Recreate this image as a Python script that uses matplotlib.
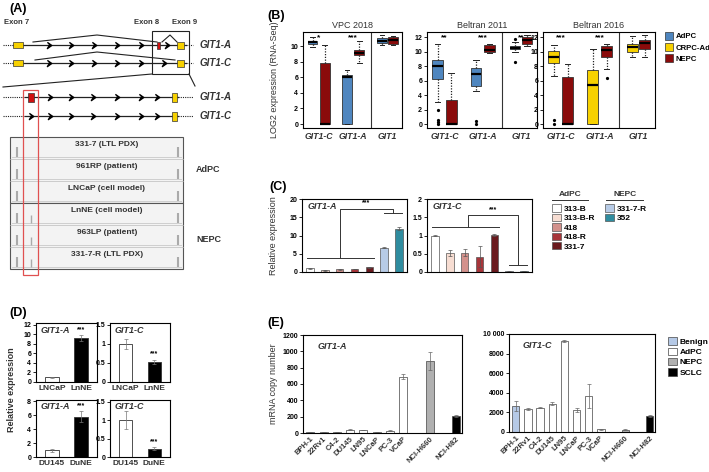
import matplotlib
matplotlib.use("Agg")
import matplotlib.pyplot as plt
from matplotlib.patches import Rectangle, Patch
from matplotlib.lines import Line2D

plt.rcParams['font.family'] = ['Liberation Sans', 'DejaVu Sans']
plt.rcParams['font.weight'] = 'bold'
plt.rcParams['axes.linewidth'] = 0.8

W, H = 709, 472

# ---------------- data ----------------
# (B) box plots: per group -> [AdPC/CRPC, NEPC] for GIT1-C, GIT1-A, GIT1
b_titles = ['VPC 2018', 'Beltran 2011', 'Beltran 2016']
b_groups = ['GIT1-C', 'GIT1-A', 'GIT1']
vpc_med = [10.5, 0.0, 6.0, 9.1, 10.7, 10.8]
vpc_q1 = [10.2, 0.0, 0.0, 8.8, 10.4, 10.3]
vpc_q3 = [10.7, 7.8, 6.3, 9.5, 11.0, 11.2]
vpc_lo = [9.9, 0.0, 0.0, 7.8, 10.1, 10.1]
vpc_hi = [11.1, 10.1, 6.9, 10.6, 11.4, 11.3]
vpc_fl = [[], [], [], [], [], []]
b11_med = [8.0, 0.0, 6.9, 10.2, 10.5, 11.6]
b11_q1 = [6.2, 0.0, 5.3, 10.0, 10.3, 11.0]
b11_q3 = [8.9, 3.3, 7.7, 10.9, 10.7, 12.0]
b11_lo = [3.0, 0.0, 4.6, 9.8, 9.9, 10.8]
b11_hi = [11.1, 7.0, 8.8, 11.1, 11.3, 12.3]
b11_fl = [[2.0, 0.6, 0.3, 0.0], [], [0.4, 0.0], [], [11.7, 8.5], []]
b16_med = [9.2, 0.0, 5.4, 10.2, 10.6, 11.2]
b16_q1 = [8.4, 0.0, 0.0, 9.3, 10.0, 10.4]
b16_q3 = [10.1, 6.5, 7.4, 10.8, 11.0, 11.6]
b16_lo = [6.6, 0.0, 0.0, 7.6, 9.3, 9.3]
b16_hi = [10.9, 8.3, 10.3, 11.1, 12.2, 12.3]
b16_fl = [[0.6, 0.0], [], [], [6.4], [], []]
b_stars = [['*', '***', ''], ['**', '***', '**'], ['***', '***', '']]

# (C) relative expression in PDX models
c_samples = ['313-B', '313-B-R', '418', '418-R', '331-7', '331-7-R', '352']
c_git1a = [1.0, 0.45, 0.7, 0.8, 1.3, 6.7, 11.9]
c_git1a_err = [0.05, 0.05, 0.08, 0.1, 0.1, 0.25, 0.3]
c_git1c = [1.0, 0.52, 0.53, 0.42, 1.01, 0.02, 0.03]
c_git1c_err = [0.02, 0.08, 0.09, 0.28, 0.02, 0.01, 0.01]

# (D) cell line pairs
d_labels = [['LNCaP', 'LnNE'], ['LNCaP', 'LnNE'], ['DU145', 'DuNE'], ['DU145', 'DuNE']]
d_genes = ['GIT1-A', 'GIT1-C', 'GIT1-A', 'GIT1-C']
d_vals = [[1.0, 9.2], [1.0, 0.53], [1.0, 5.8], [1.0, 0.23]]
d_errs = [[0.1, 0.6], [0.12, 0.05], [0.22, 0.8], [0.25, 0.04]]

# (E) mRNA copy numbers
e_lines = ['BPH-1', '22Rv1', 'C4-2', 'DU145', 'LN95', 'LNCaP', 'PC-3', 'VCaP', 'NCI-H660', 'NCI-H82']
e_type = ['Benign', 'AdPC', 'AdPC', 'AdPC', 'AdPC', 'AdPC', 'AdPC', 'AdPC', 'NEPC', 'SCLC']
e_git1a = [15, 12, 8, 40, 35, 15, 30, 690, 880, 210]
e_git1a_err = [2, 2, 1, 3, 3, 2, 3, 30, 110, 15]
e_git1c = [2650, 2300, 2500, 2900, 9300, 2250, 3650, 280, 250, 1650]
e_git1c_err = [550, 100, 100, 150, 80, 250, 1250, 30, 30, 100]

# (A) schematic layout (pixels)
chev_full = [50, 72, 95, 118, 142]
chev_zoom_a = [51, 72, 94, 118, 142, 158]
chev_zoom_c = [32, 51, 72, 94, 118, 142, 158]
tracks_adpc = ['331-7 (LTL PDX)', '961RP (patient)', 'LNCaP (cell model)']
tracks_nepc = ['LnNE (cell model)', '963LP (patient)', '331-7-R (LTL PDX)']

# colours
BLUE = '#4f86bf'
YEL = '#f7d100'
RED = '#8a0b0b'
c_colors = ['#ffffff', '#f7ddd2', '#d3918c', '#a8353a', '#6a1a1e', '#b7cbe6', '#2f8c9f']
e_color_map = {'Benign': '#b5c9e6', 'AdPC': '#ffffff', 'NEPC': '#b0b0b0', 'SCLC': '#000000'}


def px(l, t, r, b):
    return [l / W, 1 - b / H, (r - l) / W, (b - t) / H]


fig = plt.figure(figsize=(W / 100, H / 100), dpi=100)

# ---------------- (A) schematic ----------------
axA = fig.add_axes(px(0, 0, 245, 290))
axA.set_xlim(0, 245)
axA.set_ylim(290, 0)
axA.axis('off')
chev = [(-1, 1), (0.4, 0), (-1, -1), (-0.4, 0)]


def gene_line(y, x0, x1):
    axA.plot([3, x0], [y, y], color='#222', lw=0.8, ls=(0, (1, 1)))
    axA.plot([x0, x1], [y, y], color='#222', lw=0.9)
    axA.plot([x1, 193], [y, y], color='#222', lw=0.8, ls=(0, (1, 1)))


def exon(x0, x1, y, h, col):
    axA.add_patch(Rectangle((x0, y - h / 2), x1 - x0, h, fc=col, ec='#333', lw=0.5, zorder=3))


for y, extra in [(45, 168), (63, 165)]:
    gene_line(y, 13, 186)
    axA.plot(chev_full + [extra], [y] * 6, ls='none', marker=chev, ms=4.5, color='black')
    exon(13, 23, y, 6, YEL)
    exon(177, 184, y, 7, YEL)
exon(157, 160, 45, 7, '#d01010')
axA.plot([33, 97, 157], [42, 35, 42], color='#222', lw=0.8)
axA.plot([162, 170, 177], [42, 35, 42], color='#222', lw=0.8)
axA.plot([35, 97, 175], [60, 52, 60], color='#222', lw=0.8)
axA.add_patch(Rectangle((152, 31), 37, 43, fill=False, ec='#222', lw=0.8))
axA.plot([152, 3], [74, 87], color='#222', lw=0.8)
axA.plot([189, 195], [74, 86], color='#222', lw=0.8)
for lab, x in [('Exon 7', 17), ('Exon 8', 147), ('Exon 9', 185)]:
    axA.text(x, 23, lab, ha='center', va='center', fontsize=5.5, color='#333')
axA.text(200, 45, 'GIT1-A', style='italic', fontsize=7, va='center', color='#333')
axA.text(200, 63, 'GIT1-C', style='italic', fontsize=7, va='center', color='#333')

gene_line(97, 25, 178)
axA.plot(chev_zoom_a, [97] * len(chev_zoom_a), ls='none', marker=chev, ms=4.5, color='black')
exon(28, 34, 97, 9, '#d01010')
exon(172, 177, 97, 9, YEL)
gene_line(116, 25, 178)
axA.plot(chev_zoom_c, [116] * len(chev_zoom_c), ls='none', marker=chev, ms=4.5, color='black')
exon(172, 177, 116, 9, YEL)
axA.text(200, 97, 'GIT1-A', style='italic', fontsize=7, va='center', color='#333')
axA.text(200, 116, 'GIT1-C', style='italic', fontsize=7, va='center', color='#333')

for top, names, nepc in [(137, tracks_adpc, False), (203, tracks_nepc, True)]:
    axA.add_patch(Rectangle((10, top), 173, 66, fc='#f3f3f3', ec='#555', lw=0.8))
    for i, nm in enumerate(names):
        base = top + 22 * (i + 1) - 2
        axA.plot([12, 181], [base, base], color='#c8c8c8', lw=0.6)
        axA.vlines([17, 178], base - 10, base, color='#aaaaaa', lw=1.5)
        if nepc:
            axA.vlines([31], base - 8, base, color='#aaaaaa', lw=1.0)
        axA.text(107, top + 22 * i + 8, nm, ha='center', va='center', fontsize=6, color='#333')
        if i < 2:
            axA.plot([10, 183], [top + 22 * (i + 1), top + 22 * (i + 1)], color='#bbbbbb', lw=0.5)
axA.add_patch(Rectangle((23, 90), 15, 185, fill=False, ec='#e05050', lw=0.9, zorder=5))
axA.text(196, 170, 'AdPC', fontsize=6.5, va='center', color='#333')
axA.text(196, 240, 'NEPC', fontsize=6.5, va='center', color='#333')

# ---------------- (B) box plots ----------------
b_boxes = [(303, 402), (427, 537), (543, 655)]
b_data = [(vpc_med, vpc_q1, vpc_q3, vpc_lo, vpc_hi, vpc_fl),
          (b11_med, b11_q1, b11_q3, b11_lo, b11_hi, b11_fl),
          (b16_med, b16_q1, b16_q3, b16_lo, b16_hi, b16_fl)]
pos = [1, 2, 3.85, 4.85, 6.75, 7.65]
for k, ((l, r), d) in enumerate(zip(b_boxes, b_data)):
    ax = fig.add_axes(px(l, 32, r, 128))
    med, q1, q3, lo, hi, fl = d
    stats = [dict(med=med[i], q1=q1[i], q3=q3[i], whislo=lo[i], whishi=hi[i], fliers=fl[i])
             for i in range(6)]
    first = YEL if k == 2 else BLUE
    cols = [first, RED] * 3
    bx = ax.bxp(stats, positions=pos, widths=0.8, patch_artist=True,
                boxprops=dict(lw=0.6, edgecolor='#333'),
                whiskerprops=dict(ls=(0, (1, 1.2)), lw=0.9, color='#222'),
                capprops=dict(lw=0.7, color='#222'),
                medianprops=dict(color='black', lw=1.6),
                flierprops=dict(marker='o', ms=1.3, mfc='black', mec='black'))
    for p, c in zip(bx['boxes'], cols):
        p.set_facecolor(c)
    ax.axvline(5.8, color='#333', lw=0.8)
    ax.set_xlim(0.2, 8.4)
    if k == 0:
        ax.set_ylim(-0.5, 11.8)
        ax.set_yticks(range(0, 11, 2))
    else:
        ax.set_ylim(-0.55, 12.7)
        ax.set_yticks(range(0, 13, 2))
    ax.set_xticks([1.5, 4.35, 7.2])
    ax.set_xticklabels(b_groups, style='italic', fontsize=6.3, color='#333')
    ax.tick_params(axis='x', length=0, pad=3)
    ax.tick_params(axis='y', labelsize=5, length=2, width=0.6, pad=1.5)
    ax.set_title(b_titles[k], fontsize=6.5, pad=3, color='#333')
    top = ax.get_ylim()[1]
    for j, s in enumerate(b_stars[k]):
        if s:
            ax.text([1.5, 4.35, 7.2][j], top - 0.35, s, ha='center', va='top', fontsize=6)
    if k == 0:
        ax.set_ylabel('LOG2 expression (RNA-Seq)', fontsize=6.5, labelpad=8, color='#333')
fig.legend(handles=[Patch(fc=BLUE, ec='#333', lw=0.5, label='AdPC'),
                    Patch(fc=YEL, ec='#333', lw=0.5, label='CRPC-Ad'),
                    Patch(fc=RED, ec='#333', lw=0.5, label='NEPC')],
           loc='upper left', bbox_to_anchor=(662 / W, 1 - 29 / H), frameon=False,
           fontsize=5.6, handlelength=1.0, handleheight=1.1, handletextpad=0.35, labelspacing=0.35,
           borderaxespad=0)

# ---------------- (C) relative expression ----------------
xs = list(range(7))
for k, (l, r, vals, errs, gene, ymax) in enumerate([(302, 407, c_git1a, c_git1a_err, 'GIT1-A', 20),
                                                    (427, 532, c_git1c, c_git1c_err, 'GIT1-C', 2)]):
    ax = fig.add_axes(px(l, 199, r, 272))
    ax.bar(xs, vals, width=0.5, color=c_colors, edgecolor='#555', lw=0.5,
           yerr=errs, capsize=1.5, error_kw=dict(lw=0.5, ecolor='#555', capthick=0.5))
    ax.set_xlim(-0.55, 6.55)
    ax.set_ylim(0, ymax)
    ax.set_xticks([])
    if k == 0:
        ax.set_yticks([0, 5, 10, 15, 20])
        ax.set_ylabel('Relative expression', fontsize=6.5, labelpad=8, color='#333')
        lw_, hb, top_ = 3.8, 16.2, 17.3
        xm = 2
    else:
        ax.set_yticks([0, 0.5, 1, 1.5, 2])
        ax.set_yticklabels(['0', '0.5', '1', '1.5', '2'])
        lw_, hb, top_ = 1.23, 0.19, 1.56
        xm = 2.2
    ax.tick_params(axis='y', labelsize=5, length=2, width=0.6, pad=1.5)
    ax.plot([-0.2, 4.3], [lw_, lw_], color='#333', lw=0.7)
    ax.plot([xm, xm, 5.6, 5.6], [lw_, top_, top_, hb], color='#333', lw=0.7)
    ax.plot([5.0, 6.2], [hb, hb], color='#333', lw=0.7)
    ax.text((xm + 5.6) / 2, top_ + ymax * 0.03, '***', ha='center', va='bottom', fontsize=5)
    ax.text(0.05, 0.9, gene, transform=ax.transAxes, style='italic', fontsize=6.5, va='center', color='#333')
fig.legend(handles=[Patch(fc=c_colors[i], ec='#555', lw=0.5, label=c_samples[i]) for i in range(5)],
           loc='upper left', bbox_to_anchor=(549 / W, 1 - 201 / H), frameon=False, fontsize=6,
           handlelength=1.0, handleheight=1.0, handletextpad=0.4, labelspacing=0.1, borderaxespad=0)
fig.legend(handles=[Patch(fc=c_colors[i], ec='#555', lw=0.5, label=c_samples[i]) for i in range(5, 7)],
           loc='upper left', bbox_to_anchor=(602 / W, 1 - 201 / H), frameon=False, fontsize=6,
           handlelength=1.0, handleheight=1.0, handletextpad=0.4, labelspacing=0.1, borderaxespad=0)
for txt, xc, x0, x1 in [('AdPC', 570, 552, 588), ('NEPC', 625, 606, 643)]:
    fig.text(xc / W, 1 - 195 / H, txt, ha='center', va='center', fontsize=6, color='#333')
    fig.add_artist(Line2D([x0 / W, x1 / W], [1 - 200 / H, 1 - 200 / H], color='#333', lw=0.7))

# ---------------- (D) cell line pairs ----------------
d_boxes = [(36, 323, 97, 382), (110, 323, 170, 382), (36, 400, 97, 457), (110, 400, 170, 457)]
d_ylims = [(12.4, range(0, 13, 2)), (1.55, [0, 0.5, 1, 1.5]), (8.2, range(0, 9, 2)), (1.55, [0, 0.5, 1, 1.5])]
for k in range(4):
    ax = fig.add_axes(px(*d_boxes[k]))
    ax.bar([0, 1], d_vals[k], width=0.45, color=['white', 'black'], edgecolor='#333', lw=0.6,
           yerr=d_errs[k], capsize=1.5, error_kw=dict(lw=0.5, ecolor='#777', capthick=0.5))
    ax.set_xlim(-0.55, 1.55)
    ax.set_ylim(0, d_ylims[k][0])
    ax.set_yticks(list(d_ylims[k][1]))
    if k in (1, 3):
        ax.set_yticklabels(['0', '0.5', '1', '1.5'])
    ax.set_xticks([0, 1])
    ax.set_xticklabels(d_labels[k], fontsize=6, color='#333')
    ax.tick_params(axis='x', length=0, pad=2)
    ax.tick_params(axis='y', labelsize=5, length=2, width=0.6, pad=1.5)
    ax.text(0.08, 0.88, d_genes[k], transform=ax.transAxes, style='italic', fontsize=6.5, va='center', color='#333')
    ax.text(1, d_vals[k][1] + d_errs[k][1] + d_ylims[k][0] * 0.04, '***', ha='center', va='bottom', fontsize=5)
fig.text(12 / W, 1 - 390 / H, 'Relative expression', rotation=90, ha='center', va='center', fontsize=6.5, color='#333')

# ---------------- (E) mRNA copy number ----------------
e_pos = [0, 1, 2, 3, 4, 5, 6, 7, 9, 11]
e_cols = [e_color_map[t] for t in e_type]
for k, (box, vals, errs, gene, ymax, ticks) in enumerate([
        ((303, 335, 462, 433), e_git1a, e_git1a_err, 'GIT1-A', 1200, range(0, 1201, 200)),
        ((509, 334, 655, 432), e_git1c, e_git1c_err, 'GIT1-C', 10000, range(0, 10001, 2000))]):
    ax = fig.add_axes(px(*box))
    ax.bar(e_pos, vals, width=0.6, color=e_cols, edgecolor='#444', lw=0.5,
           yerr=errs, capsize=1.5, error_kw=dict(lw=0.5, ecolor='#666', capthick=0.5))
    ax.set_xlim(-0.55, 11.45)
    ax.set_ylim(0, ymax)
    ax.set_yticks(list(ticks))
    if k == 1:
        ax.set_yticklabels(['0', '2000', '4000', '6000', '8000', '10 000'])
    else:
        ax.set_ylabel('mRNA copy number', fontsize=6.5, labelpad=3, color='#333')
    ax.set_xticks(e_pos)
    ax.set_xticklabels(e_lines, rotation=45, ha='right', rotation_mode='anchor', fontsize=5.5, color='#333')
    ax.tick_params(axis='x', length=0, pad=2)
    ax.tick_params(axis='y', labelsize=5, length=2, width=0.6, pad=1.5)
    ax.text(0.09, 0.88, gene, transform=ax.transAxes, style='italic', fontsize=6.5, va='center', color='#333')
fig.legend(handles=[Patch(fc=e_color_map[t], ec='#444', lw=0.5, label=t) for t in ['Benign', 'AdPC', 'NEPC', 'SCLC']],
           loc='upper left', bbox_to_anchor=(665 / W, 1 - 334 / H), frameon=False, fontsize=6,
           handlelength=1.0, handleheight=1.0, handletextpad=0.4, labelspacing=0.2, borderaxespad=0)

# panel letters
for lab, x, y in [('(A)', 18, 9), ('(B)', 276, 16), ('(C)', 278, 187), ('(D)', 18, 313), ('(E)', 276, 323)]:
    fig.text(x / W, 1 - y / H, lab, ha='center', va='center', fontsize=9)

fig.savefig('out.png', dpi=100)
